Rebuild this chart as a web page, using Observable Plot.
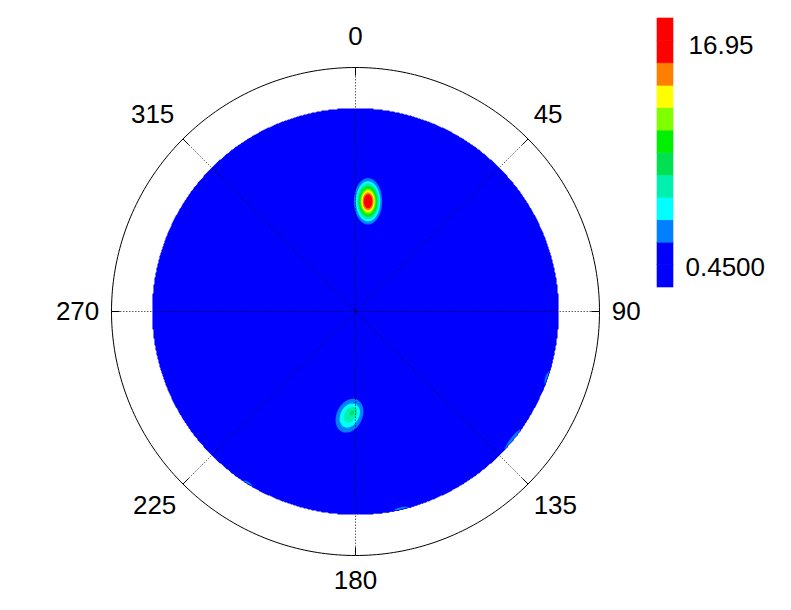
<!DOCTYPE html>
<html><head><meta charset="utf-8">
<script src="https://cdn.jsdelivr.net/npm/d3@7"></script>
<script src="https://cdn.jsdelivr.net/npm/@observablehq/plot@0.6"></script>
<style>
body{margin:0;background:#fff;}
#wrap{position:relative;width:791px;height:610px;font-family:Arial,"Liberation Sans",sans-serif;}
#wrap svg{position:absolute;top:0;}
</style></head><body><div id="wrap"></div>
<script>
// ---- contour levels / colour bar ----
const levels = [0.45, 1.825, 3.2, 4.575, 5.95, 7.325, 8.7, 10.075, 11.45, 12.825, 14.2, 15.575, 16.95];
const levelColors = ["#0000ff","#0000ff","#0080ff","#00ffff","#00f0b0","#00e050","#00f000","#80ff00","#ffff00","#ff8000","#ff0000","#ff0000"];
const colorbarTicks = [0.45, 16.95];
const colorbarTickLabels = ["0.4500", "16.95"];
// ---- polar axis ----
const azimuthTicks = [0, 45, 90, 135, 180, 225, 270, 315];
const azimuthLabels = ["0", "45", "90", "135", "180", "225", "270", "315"];
const maxTilt = 75;      // measured region of the pole figure
const ringTilt = 90;     // outer reference circle
const backgroundLevel = 1.0;
// ---- intensity peaks (azimuth deg clockwise from top, tilt deg) ----
const peakAzimuth = [6.5, 183.3, 181.1, 109, 129, 167, 212];
const peakTilt    = [40.9, 38.5, 36.9, 77.5, 77.5, 77.5, 77.5];
const peakAmp     = [15.95, 5.8, 1.3, 4.2, 4.4, 4.2, 4.0];
const peakMajor   = [4.3, 4.7, 1.3, 4, 7, 4.5, 3.5];
const peakMinor   = [2.6, 3.4, 1.3, 3, 3, 3, 3];
const peakOrient  = [90, 64, 0, 71, 51, 13, -32];

const rad = Math.PI / 180;
const peaks = peakAzimuth.map((a, i) => ({
  x: peakTilt[i] * Math.sin(a * rad), y: peakTilt[i] * Math.cos(a * rad),
  amp: peakAmp[i], sa: peakMajor[i], sb: peakMinor[i],
  c: Math.cos(peakOrient[i] * rad), s: Math.sin(peakOrient[i] * rad)
}));
function intensity(x, y) {
  if (Math.hypot(x, y) > maxTilt) return 0;
  let v = backgroundLevel;
  for (const p of peaks) {
    const dx = x - p.x, dy = y - p.y;
    const u = dx * p.c + dy * p.s, w = -dx * p.s + dy * p.c;
    v += p.amp * Math.exp(-(u * u) / (2 * p.sa * p.sa) - (w * w) / (2 * p.sb * p.sb));
  }
  return v;
}

const colorScale = {type: "threshold", domain: levels.slice(1, levels.length - 1), range: levelColors};
const ring = d3.range(0, 361, 1).map(a => ({x: ringTilt * Math.sin(a * rad), y: ringTilt * Math.cos(a * rad)}));
const labelR = 94.5;
const font = "Arial, 'Liberation Sans', sans-serif";

const labelMarks = azimuthTicks.map((a, i) => {
  const s = Math.sin(a * rad), c = Math.cos(a * rad);
  const top = c > 0.1, bottom = c < -0.1;
  return Plot.text([a], {
    x: d => labelR * Math.sin(d * rad), y: d => labelR * Math.cos(d * rad),
    text: () => azimuthLabels[i],
    textAnchor: s > 0.1 ? "start" : s < -0.1 ? "end" : "middle",
    lineAnchor: top ? "bottom" : bottom ? "top" : "middle",
    dy: top ? (Math.abs(s) < 0.1 ? -10 : -7) : bottom ? 3 : 0,
    dx: (top || bottom) && s > 0.1 ? -3 : (bottom && s < -0.1 ? 2 : 0),
    fontSize: 26, fill: "#000"
  });
});

const main = Plot.plot({
  width: 791, height: 610,
  marginLeft: 111, marginRight: 192, marginTop: 67, marginBottom: 55,
  x: {domain: [-ringTilt, ringTilt], axis: null},
  y: {domain: [-ringTilt, ringTilt], axis: null},
  color: colorScale,
  style: {fontFamily: font, background: "transparent"},
  marks: [
    Plot.contour({
      fill: intensity, x1: -ringTilt, x2: ringTilt, y1: -ringTilt, y2: ringTilt,
      thresholds: levels, pixelSize: 1, stroke: "none"
    }),
    Plot.link(azimuthTicks, {
      x1: () => 0, y1: () => 0,
      x2: d => ringTilt * Math.sin(d * rad), y2: d => ringTilt * Math.cos(d * rad),
      stroke: "#000", strokeWidth: 0.9, strokeDasharray: "1.5,1.5", strokeOpacity: 0.7
    }),
    Plot.link(azimuthTicks, {
      x1: d => (ringTilt - 3) * Math.sin(d * rad), y1: d => (ringTilt - 3) * Math.cos(d * rad),
      x2: d => ringTilt * Math.sin(d * rad), y2: d => ringTilt * Math.cos(d * rad),
      stroke: "#000", strokeWidth: 1
    }),
    Plot.line(ring, {x: "x", y: "y", stroke: "#000", strokeWidth: 1}),
    ...labelMarks
  ]
});

const bands = levelColors.map((c, i) => ({lo: levels[i], hi: levels[i + 1]}));
const bar = Plot.plot({
  width: 150, height: 300,
  marginLeft: 17, marginRight: 117, marginTop: 18, marginBottom: 13,
  x: {domain: [0, 1], axis: null},
  y: {domain: [levels[0], levels[levels.length - 1]], axis: null},
  color: colorScale,
  style: {fontFamily: font, background: "transparent"},
  marks: [
    Plot.rect(bands, {x1: () => 0, x2: () => 1, y1: "lo", y2: "hi", fill: "lo", stroke: "lo", strokeWidth: 0.6}),
    Plot.text([colorbarTicks[1]], {x: () => 1, y: d => d, text: () => colorbarTickLabels[1],
      textAnchor: "start", lineAnchor: "top", dx: 15, dy: 17, fontSize: 26, fill: "#000"}),
    Plot.text([colorbarTicks[0]], {x: () => 1, y: d => d, text: () => colorbarTickLabels[0],
      textAnchor: "start", lineAnchor: "bottom", dx: 12, dy: -12, fontSize: 26, fill: "#000"})
  ]
});
bar.style.left = "640px";
main.style.left = "0px";
const wrap = document.getElementById("wrap");
wrap.appendChild(main);
wrap.appendChild(bar);
</script></body></html>
